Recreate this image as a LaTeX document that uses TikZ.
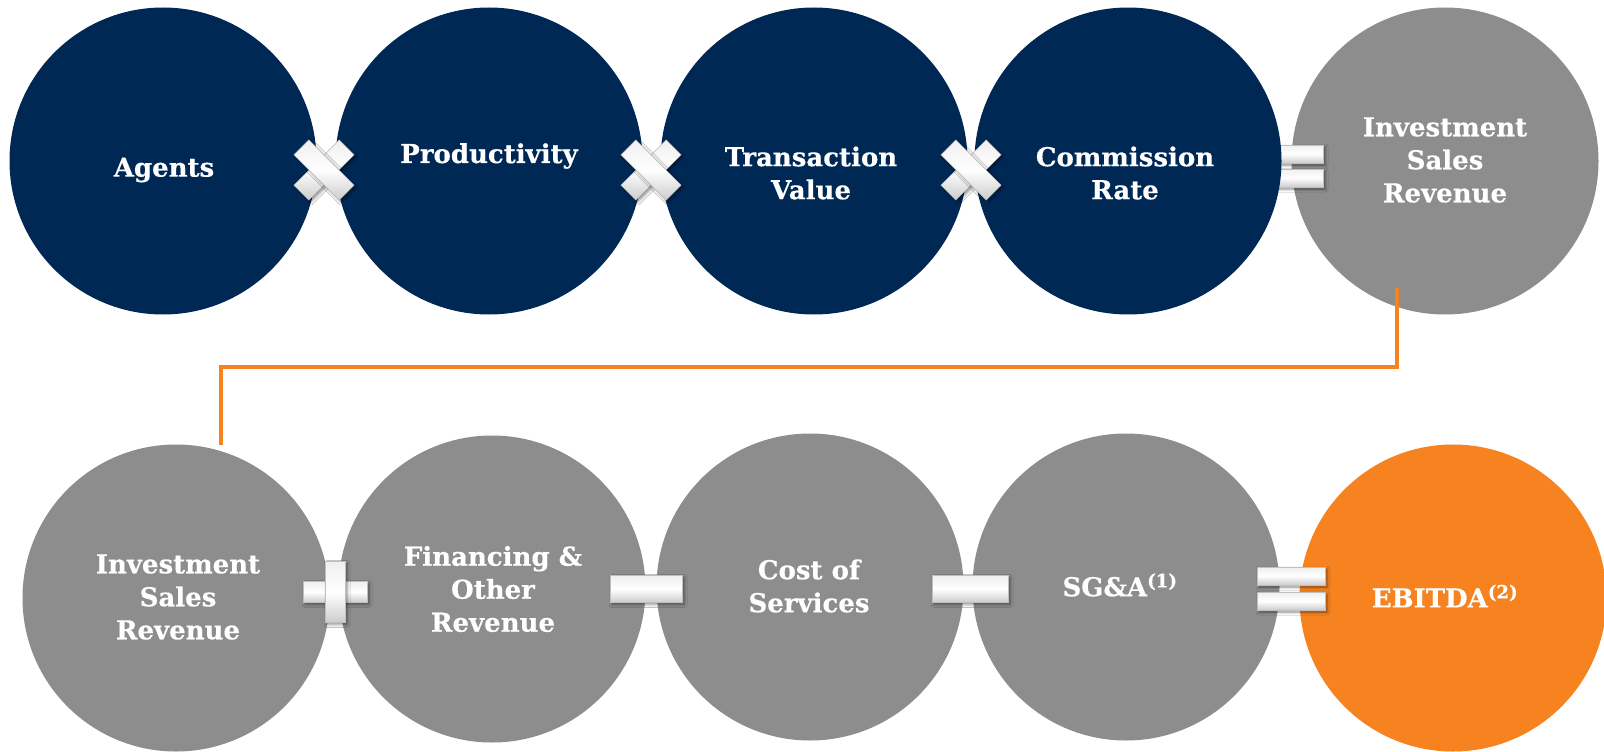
\documentclass[tikz,border=0pt]{standalone}
\usepackage{fontspec}
\setmainfont{DejaVu Serif}[BoldFeatures={FakeBold=0.4}]
\usetikzlibrary{shadows.blur}
\definecolor{navy}{RGB}{0,40,85}
\definecolor{midgray}{RGB}{141,141,141}
\definecolor{orng}{RGB}{246,130,32}
\begin{document}
\begin{tikzpicture}[x=1pt,y=-1pt,
  bub/.style={circle, minimum size=307pt, inner sep=0pt, outer sep=0pt},
  navybub/.style={bub, fill=navy},
  graybub/.style={bub, fill=midgray},
  orangebub/.style={bub, fill=orng},
  lbl/.style={text=white, font=\fontsize{26}{33}\selectfont\bfseries, align=center, inner sep=0pt},
  opbar/.style={rectangle, inner sep=0pt, outer sep=0pt, draw=gray!50, line width=0.5pt,
    top color=gray!12, bottom color=gray!40, middle color=white,
    blur shadow={shadow xshift=2pt, shadow yshift=-2pt, shadow blur radius=3pt, shadow opacity=45}},
  link/.style={draw=orng, line width=4pt}
]
\fill[white] (0,0) rectangle (1604,752);
\useasboundingbox (0,0) rectangle (1604,752);

% top row
\node[navybub] (agents) at (163,161) {};
\node[navybub] (prod) at (489,161) {};
\node[navybub] (tv) at (814,161) {};
\node[graybub] (isr) at (1445,161) {};
\node[opbar, minimum width=68pt, minimum height=18pt] (eqa1) at (1289,154) {};
\node[opbar, minimum width=68pt, minimum height=18pt] (eqa2) at (1289,178) {};
\node[navybub] (cr) at (1128,161) {};

% bottom row
\node[graybub] (isrb) at (176,598) {};
\node[graybub] (fin) at (492,589) {};
\node[graybub] (cos) at (810,587) {};
\node[graybub] (sga) at (1126,587) {};
\node[orangebub] (ebitda) at (1453,598) {};

% labels
\node[lbl] (tagents) at (164,170) {Agents};
\node[lbl] (tprod) at (489,156) {Productivity};
\node[lbl] (ttv) at (811,173) {Transaction\\Value};
\node[lbl] (tcr) at (1125,173) {Commission\\Rate};
\node[lbl] (tisr) at (1445,160) {Investment\\Sales\\Revenue};
\node[lbl] (tisrb) at (178,597) {Investment\\Sales\\Revenue};
\node[lbl] (tfin) at (493,589) {Financing \&\\Other\\Revenue};
\node[lbl] (tcos) at (809,586) {Cost of\\Services};
\node[lbl] (tsga) at (1120,585) {SG\&A\textsuperscript{(1)}};
\node[lbl] (tebitda) at (1445,596) {EBITDA\textsuperscript{(2)}};

% orange connector
\coordinate (lstart) at (1397,288);
\coordinate (lmid) at (0,367);
\coordinate (lend) at (221,445);
\draw[link] (lstart) -- (lstart |- lmid) -| (lend);

% multiply signs
\node[opbar, minimum width=64pt, minimum height=21pt, rotate=45] (x1a) at (324,170) {};
\node[opbar, minimum width=64pt, minimum height=21pt, rotate=-45] (x1b) at (324,170) {};
\node[opbar, minimum width=64pt, minimum height=21pt, rotate=45] (x2a) at (651,170) {};
\node[opbar, minimum width=64pt, minimum height=21pt, rotate=-45] (x2b) at (651,170) {};
\node[opbar, minimum width=64pt, minimum height=21pt, rotate=45] (x3a) at (971,170) {};
\node[opbar, minimum width=64pt, minimum height=21pt, rotate=-45] (x3b) at (971,170) {};

% plus
\node[opbar, minimum width=64pt, minimum height=21pt] (pla) at (335,592) {};
\node[opbar, minimum width=20pt, minimum height=61pt] (plb) at (335,592) {};

% minus
\node[opbar, minimum width=72pt, minimum height=27pt] (mi1) at (646,589) {};
\node[opbar, minimum width=76pt, minimum height=27pt] (mi2) at (970,589) {};

% equals bottom
\node[opbar, minimum width=68pt, minimum height=18pt] (eqb1) at (1291,576) {};
\node[opbar, minimum width=68pt, minimum height=18pt] (eqb2) at (1291,601) {};
\end{tikzpicture}
\end{document}
